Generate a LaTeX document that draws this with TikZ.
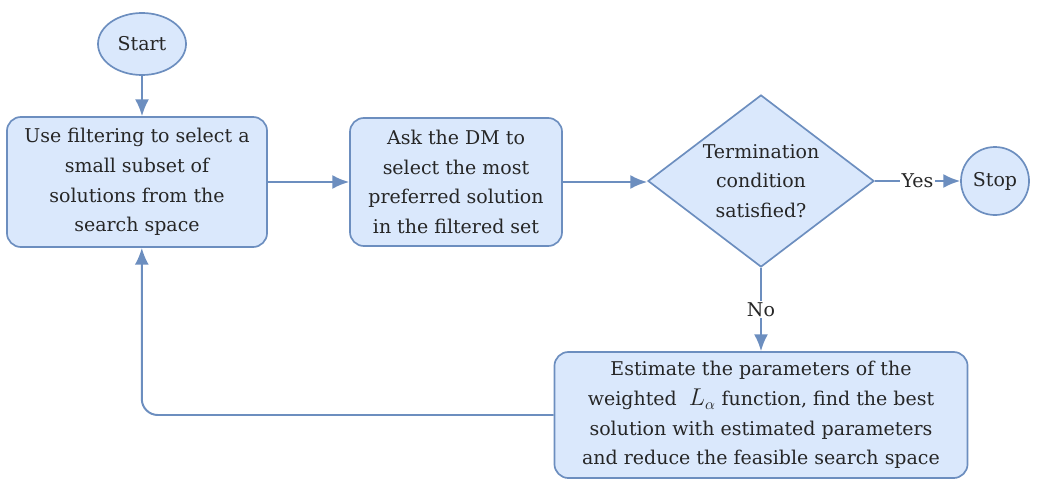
\documentclass[tikz,border=0pt]{standalone}
\usepackage{fontspec}
\setmainfont{DejaVu Serif}
\usetikzlibrary{positioning, arrows.meta, shapes.geometric}
\definecolor{boxfill}{HTML}{DAE8FC}
\definecolor{boxline}{HTML}{6C8EBF}

\begin{document}
\begin{tikzpicture}[x=0.025cm, y=-0.025cm,
  every node/.style={font=\fontsize{13.5}{21}\selectfont, align=center, text=black!85},
  block/.style={draw=boxline, fill=boxfill, line width=1.2pt, rounded corners=0.35cm, inner sep=2pt},
  terminal/.style={draw=boxline, fill=boxfill, line width=1.2pt, ellipse, inner sep=0pt},
  decision/.style={draw=boxline, fill=boxfill, line width=1.2pt, diamond, aspect=1.3, inner sep=0pt},
  flow/.style={draw=boxline, line width=1.4pt, -{Latex[length=12pt,width=10pt]}},
  tag/.style={fill=white, inner sep=1pt}]
  \useasboundingbox (0,0) rectangle (1040,481);
  \node[terminal, minimum width=2.2cm, minimum height=1.55cm] (start) at (142,44) {Start};
  \node[block, minimum width=6.5cm, minimum height=3.25cm] (use) at (137,182)
    {Use filtering to select a\\ small subset of\\ solutions from the\\ search space};
  \node[block, minimum width=5.3cm, minimum height=3.2cm] (ask) at (456,182)
    {Ask the DM to\\ select the most\\ preferred solution\\ in the filtered set};
  \node[decision, minimum width=5.65cm, minimum height=4.3cm] (term) at (761,181)
    {Termination\\ condition\\ satisfied?};
  \node[terminal, circle, minimum size=1.7cm] (stop) at (995,181) {Stop};
  \node[block, minimum width=10.325cm, minimum height=3.15cm] (est) at (761,415)
    {Estimate the parameters of the\\ weighted \ {\fontsize{16}{21}\selectfont$L_\alpha$} function, find the best\\
     solution with estimated parameters\\ and reduce the feasible search space};
  \draw[flow] (start.south) -- (start.south |- use.north);
  \draw[flow] (use.east) -- (ask.west);
  \draw[flow] (ask.east) -- (ask.east -| term.west);
  \draw[flow] (term.east) -- node[tag] {Yes} (stop.west);
  \draw[flow] (term.south) -- node[tag] {No} (est.north);
  \draw[flow, rounded corners=0.4cm] (est.west) -| ([xshift=0.12cm]use.south);
\end{tikzpicture}
\end{document}
